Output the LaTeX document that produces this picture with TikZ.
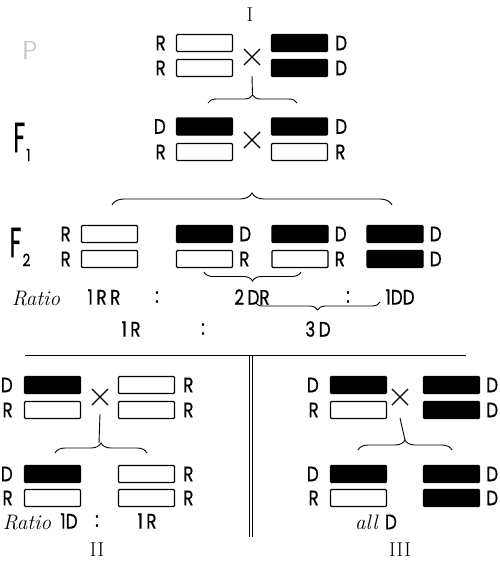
\documentclass[tikz,border=0pt]{standalone}
\usepackage{fontspec}
\usepackage{tikz}
\usetikzlibrary{positioning}
\usetikzlibrary{decorations.pathreplacing,shapes.misc}
\newfontfamily\labfont[FakeStretch=0.8,FakeBold=0.6]{Poppins}
\tikzstyle{chr_w} = [rectangle, draw=black, fill=white, line width=1.1pt, rounded corners=1pt, minimum width=56pt, minimum height=17pt, inner sep=0pt]
\tikzstyle{chr_b} = [chr_w, fill=black]
\tikzstyle{lab_t} = [inner sep=0pt, font=\labfont\fontsize{21}{21}\selectfont]
\tikzstyle{rat_t} = [inner sep=0pt, font=\itshape\fontsize{21}{21}\selectfont]
\tikzstyle{num_t} = [inner sep=0pt, font=\rmfamily\fontsize{20}{20}\selectfont]
\tikzstyle{gen_t} = [inner sep=0pt, font=\labfont\fontsize{42}{42}\selectfont]
\tikzstyle{crs_x} = [cross out, draw=black, line width=1.1pt, minimum size=15pt, inner sep=0pt]
\tikzstyle{brc_n} = [decorate, decoration={brace, amplitude=#1}, line width=0.9pt]
\tikzstyle{dbl_l} = [double, double distance=2.6pt, line width=0.7pt]
\newcommand{\fgen}[1]{\scalebox{0.7}[1]{F}\kern1pt\raisebox{-9pt}{\fontsize{17}{17}\selectfont #1}}

\begin{document}
\begin{tikzpicture}[x=1pt,y=-1pt]
\useasboundingbox (0,0) rectangle (499,582);

% parents
\node[num_t] (n_i) at (250,15) {I};
\node[inner sep=0pt, font=\sffamily\fontsize{26}{26}\selectfont, text=black!22] (n_p) at (30,50) {P};
\node[chr_w] (p_l1) at (204.5,43) {};
\node[chr_w] (p_l2) at (204.5,68) {};
\node[chr_b] (p_r1) at (299.5,43) {};
\node[chr_b] (p_r2) at (299.5,68) {};
\node[lab_t, left=10pt of p_l1] (p_l1t) {R};
\node[lab_t, left=10pt of p_l2] (p_l2t) {R};
\node[lab_t, right=7pt of p_r1] (p_r1t) {D};
\node[lab_t, right=7pt of p_r2] (p_r2t) {D};
\node[crs_x] (p_x) at (252,57) {};
\coordinate (p_bl) at (208,103);
\coordinate (p_br) at (297,103);
\coordinate (p_bt) at (252.5,95);
\draw[line width=0.9pt] ([yshift=-11pt]p_x.south) -- (p_bt);
\draw[brc_n=8pt] (p_bl) -- (p_br);

% F1
\node[gen_t] (n_f1) at (22,142) {\fgen{1}};
\node[chr_b] (f_l1) at (204.5,126.5) {};
\node[chr_w] (f_l2) at (204.5,152) {};
\node[chr_b] (f_r1) at (299.5,126.5) {};
\node[chr_w] (f_r2) at (299.5,152) {};
\node[lab_t, left=10pt of f_l1] (f_l1t) {D};
\node[lab_t, left=10pt of f_l2] (f_l2t) {R};
\node[lab_t, right=7pt of f_r1] (f_r1t) {D};
\node[lab_t, right=7pt of f_r2] (f_r2t) {R};
\node[crs_x] (f_x) at (252,140) {};
\coordinate (f_bl) at (112,205);
\coordinate (f_br) at (392,205);
\draw[brc_n=12pt] (f_bl) -- (f_br);

% F2
\node[gen_t] (n_f2) at (20,247) {\fgen{2}};
\node[chr_w] (s_11) at (109.5,234) {};
\node[chr_w] (s_12) at (109.5,259) {};
\node[chr_b] (s_21) at (204.5,234) {};
\node[chr_w] (s_22) at (204.5,259) {};
\node[chr_b] (s_31) at (300,234) {};
\node[chr_w] (s_32) at (300,259) {};
\node[chr_b] (s_41) at (395,234) {};
\node[chr_b] (s_42) at (395,259) {};
\node[lab_t, left=10pt of s_11] (s_11t) {R};
\node[lab_t, left=10pt of s_12] (s_12t) {R};
\node[lab_t, right=6pt of s_21] (s_21t) {D};
\node[lab_t, right=6pt of s_22] (s_22t) {R};
\node[lab_t, right=6pt of s_31] (s_31t) {D};
\node[lab_t, right=6pt of s_32] (s_32t) {R};
\node[lab_t, right=6pt of s_41] (s_41t) {D};
\node[lab_t, right=6pt of s_42] (s_42t) {D};
\coordinate (s_br1) at (301,272);
\coordinate (s_bl1) at (204,272);
\draw[brc_n=9pt] (s_br1) -- (s_bl1);

% ratios
\node[rat_t] (r_txt) at (36,299) {Ratio};
\node[lab_t] (r_rr) at (104,297) {1\,R\,R};
\node[lab_t] (r_c1) at (157,297) {:};
\node[lab_t] (r_dr) at (252,297) {2\,DR};
\node[lab_t] (r_c2) at (348,297) {:};
\node[lab_t] (r_dd) at (400,297) {1DD};
\coordinate (s_br2) at (380,302);
\coordinate (s_bl2) at (255,302);
\draw[brc_n=8pt] (s_br2) -- (s_bl2);
\node[lab_t] (r_r) at (131,329) {1\,R};
\node[lab_t] (r_c3) at (203,329) {:};
\node[lab_t] (r_d) at (318,329) {3\,D};

% separators
\coordinate (h_l) at (25,353.5);
\coordinate (h_r) at (466,353.5);
\coordinate (v_t) at (251,356);
\coordinate (v_b) at (251,537);
\draw[dbl_l] (h_l) -- (h_r);
\draw[dbl_l] (v_t) -- (v_b);

% II
\node[chr_b] (a_l1) at (52.5,385) {};
\node[chr_w] (a_l2) at (52.5,410) {};
\node[chr_w] (a_r1) at (146.5,385) {};
\node[chr_w] (a_r2) at (146.5,410) {};
\node[lab_t, left=11pt of a_l1] (a_l1t) {D};
\node[lab_t, left=11pt of a_l2] (a_l2t) {R};
\node[lab_t, right=8pt of a_r1] (a_r1t) {R};
\node[lab_t, right=8pt of a_r2] (a_r2t) {R};
\node[crs_x] (a_x) at (100,397) {};
\coordinate (a_bl) at (55,453);
\coordinate (a_br) at (147,453);
\coordinate (a_bt) at (99,443);
\draw[line width=0.9pt] ([yshift=-9pt]a_x.south) -- (a_bt);
\draw[brc_n=10pt] (a_bl) -- (a_br);
\node[chr_b] (a_l3) at (52.5,474) {};
\node[chr_w] (a_l4) at (52.5,498) {};
\node[chr_w] (a_r3) at (146.5,474) {};
\node[chr_w] (a_r4) at (146.5,498) {};
\node[lab_t, left=11pt of a_l3] (a_l3t) {D};
\node[lab_t, left=11pt of a_l4] (a_l4t) {R};
\node[lab_t, right=8pt of a_r3] (a_r3t) {R};
\node[lab_t, right=8pt of a_r4] (a_r4t) {R};
\node[rat_t] (a_txt) at (27,523) {Ratio};
\node[lab_t] (a_d) at (69,521) {1D};
\node[lab_t] (a_c) at (97,521) {:};
\node[lab_t] (a_r) at (147,521) {1\,R};
\node[num_t] (n_ii) at (97,550) {I\kern1pt I};

% III
\node[chr_b] (b_l1) at (358.5,385) {};
\node[chr_w] (b_l2) at (358.5,410) {};
\node[chr_b] (b_r1) at (451.5,385) {};
\node[chr_b] (b_r2) at (451.5,410) {};
\node[lab_t, left=11pt of b_l1] (b_l1t) {D};
\node[lab_t, left=11pt of b_l2] (b_l2t) {R};
\node[lab_t, right=6pt of b_r1] (b_r1t) {D};
\node[lab_t, right=6pt of b_r2] (b_r2t) {D};
\node[crs_x] (b_x) at (400,397) {};
\coordinate (b_bl) at (358,450);
\coordinate (b_br) at (452,450);
\coordinate (b_bt) at (405,440);
\draw[line width=0.9pt] ([yshift=-13pt]b_x.south) -- (b_bt);
\draw[brc_n=10pt] (b_bl) -- (b_br);
\node[chr_b] (b_l3) at (358.5,474) {};
\node[chr_w] (b_l4) at (358.5,498) {};
\node[chr_b] (b_r3) at (451.5,474) {};
\node[chr_b] (b_r4) at (451.5,498) {};
\node[lab_t, left=11pt of b_l3] (b_l3t) {D};
\node[lab_t, left=11pt of b_l4] (b_l4t) {R};
\node[lab_t, right=6pt of b_r3] (b_r3t) {D};
\node[lab_t, right=6pt of b_r4] (b_r4t) {D};
\node[rat_t] (b_txt) at (376,522) {all {\upshape\labfont\fontsize{21}{21}\selectfont D}};
\node[num_t] (n_iii) at (400,550) {I\kern1pt I\kern1pt I};
\end{tikzpicture}
\end{document}
